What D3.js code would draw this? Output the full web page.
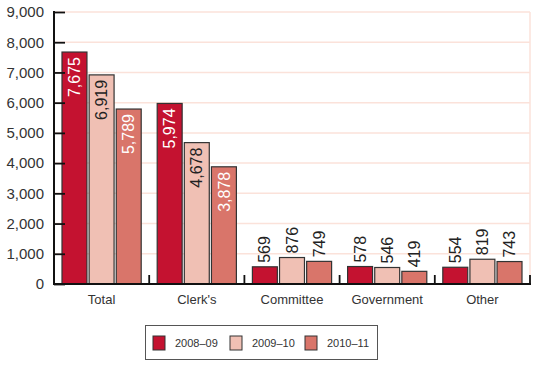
<!DOCTYPE html>
<html><head><meta charset="utf-8">
<script src="https://cdn.jsdelivr.net/npm/d3@7"></script>
<style>body{margin:0;background:#fff}svg{display:block;font-family:"Liberation Sans",Arial,sans-serif}</style>
</head><body>
<svg id="c" width="540" height="366"></svg>
<script>
const categories = ["Total","Clerk's","Committee","Government","Other"];
const seriesNames = ["2008–09","2009–10","2010–11"];
const values2008 = [7675,5974,569,578,554];
const values2009 = [6919,4678,876,546,819];
const values2010 = [5789,3878,749,419,743];
const yTicks = [0,1000,2000,3000,4000,5000,6000,7000,8000,9000];
const colors = ["#c41230","#f0c0b4","#d9756a"];
const labelColors = ["#fff","#222","#fff"];

const series = [values2008, values2009, values2010];
const svg = d3.select("#c");
const L = 54, R = 530, T = 12, B = 284;
const x = d3.scaleBand().domain(categories).range([L, R]).paddingInner(0).paddingOuter(0);
const y = d3.scaleLinear().domain([0, 9000]).range([B, T]);
const xs = d3.scaleBand().domain(d3.range(3)).range([8, x.bandwidth() - 8]).paddingInner(0.08);

// gridlines
svg.append("g").selectAll("line").data(yTicks.filter(d => d > 0)).join("line")
  .attr("x1", L).attr("x2", R).attr("y1", d => y(d)).attr("y2", d => y(d))
  .attr("stroke", "#fbe2da").attr("stroke-width", 1.5);
svg.append("line").attr("x1", R).attr("x2", R).attr("y1", T).attr("y2", B)
  .attr("stroke", "#fbe2da").attr("stroke-width", 1.5);

// bars
const g = svg.append("g");
categories.forEach((c, ci) => {
  series.forEach((s, si) => {
    const v = s[ci];
    const bx = x(c) + xs(si), bw = xs.bandwidth();
    g.append("rect").attr("x", bx).attr("y", y(v)).attr("width", bw).attr("height", B - y(v))
      .attr("fill", colors[si]).attr("stroke", "#333").attr("stroke-width", 1.2);
    const cx = bx + bw / 2;
    const inside = v > 2000;
    const lbl = d3.format(",")(v);
    if (inside) {
      g.append("text").attr("transform", `translate(${cx},${y(v) + 5}) rotate(-90)`)
        .attr("text-anchor", "end").attr("dy", "0.35em").attr("font-size", 16)
        .attr("fill", labelColors[si]).text(lbl);
    } else {
      g.append("text").attr("transform", `translate(${cx},${y(v) - 4}) rotate(-90)`)
        .attr("text-anchor", "start").attr("dy", "0.35em").attr("font-size", 16)
        .attr("fill", "#222").text(lbl);
    }
  });
});

// y axis
const ya = svg.append("g").attr("transform", `translate(${L},0)`)
  .call(d3.axisLeft(y).tickValues(yTicks).tickFormat(d3.format(",")).tickSize(-11).tickPadding(10));
ya.select(".domain").remove();
ya.selectAll(".tick line").attr("stroke", "#111").attr("stroke-width", 1.8);
ya.selectAll("text").attr("font-size", 15).attr("fill", "#333").attr("font-family", "Liberation Sans, Arial, sans-serif");
svg.append("line").attr("x1", L).attr("x2", L).attr("y1", T - 1).attr("y2", B + 1).attr("stroke", "#111").attr("stroke-width", 2);

// x axis
const xa = svg.append("g").attr("transform", `translate(0,${B})`)
  .call(d3.axisBottom(x).tickSize(0).tickPadding(11));
xa.select(".domain").remove();
xa.selectAll("text").attr("font-size", 13).attr("fill", "#333").attr("font-family", "Liberation Sans, Arial, sans-serif");
const bounds = categories.map(c => x(c)).concat([R]);
svg.append("g").selectAll("line").data(bounds.slice(1)).join("line")
  .attr("x1", d => d).attr("x2", d => d).attr("y1", B).attr("y2", B - 9)
  .attr("stroke", "#111").attr("stroke-width", 1.8);
svg.append("line").attr("x1", L - 1).attr("x2", R + 1).attr("y1", B).attr("y2", B).attr("stroke", "#111").attr("stroke-width", 2);

// legend
const lg = svg.append("g");
lg.append("rect").attr("x", 145.5).attr("y", 325.5).attr("width", 232).attr("height", 34)
  .attr("fill", "#fff").attr("stroke", "#555").attr("stroke-width", 1);
const lx = [153, 230, 305];
seriesNames.forEach((n, i) => {
  lg.append("rect").attr("x", lx[i]).attr("y", 336).attr("width", 12).attr("height", 14)
    .attr("fill", colors[i]).attr("stroke", "#333").attr("stroke-width", 1);
  lg.append("text").attr("x", lx[i] + 22).attr("y", 343).attr("dy", "0.35em")
    .attr("font-size", 11).attr("fill", "#333").text(n);
});
</script>
</body></html>
